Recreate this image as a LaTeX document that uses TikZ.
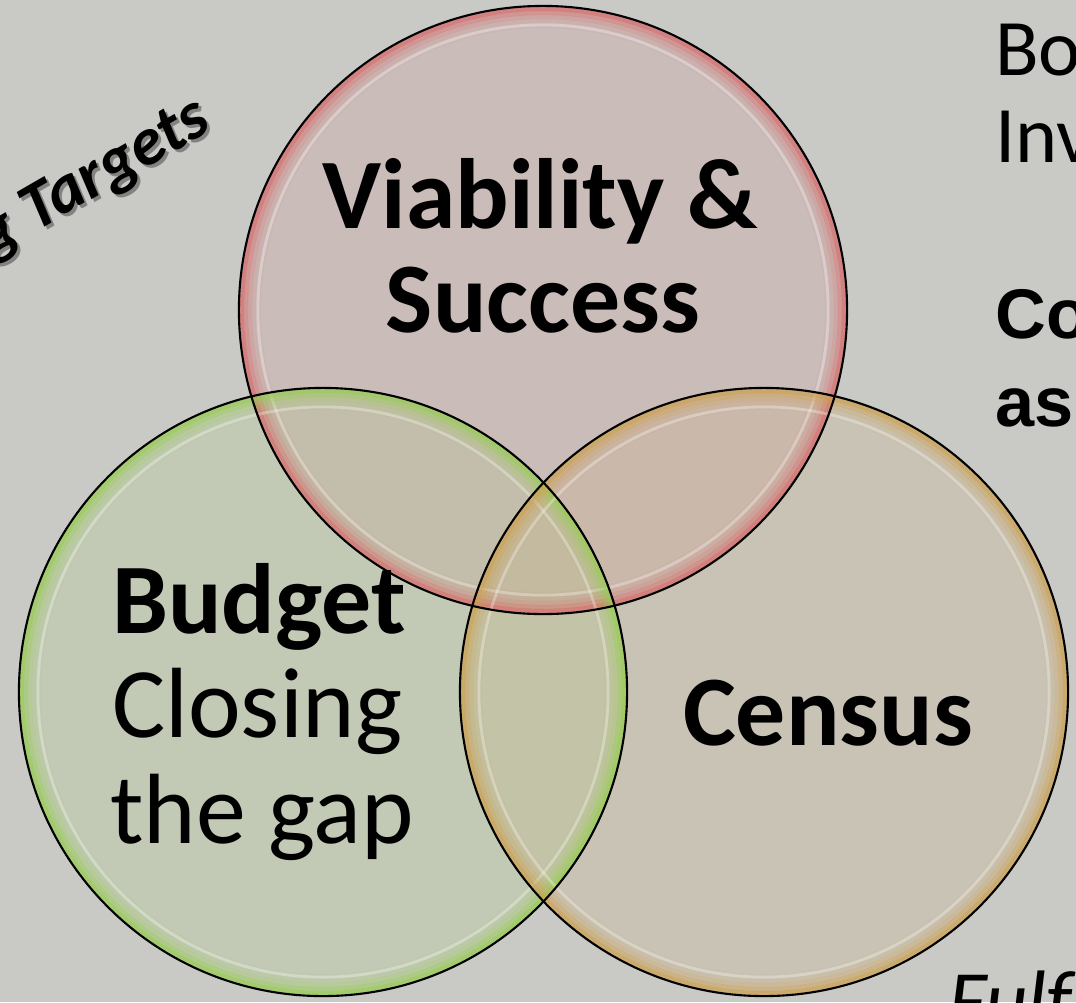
\documentclass[tikz,border=0pt]{standalone}
\usepackage{fontspec}
\setmainfont{Carlito}
\newfontfamily\arialf{Liberation Sans}
\begin{document}
\definecolor{bgc}{RGB}{201,201,197}
\definecolor{redc}{RGB}{215,105,105}
\definecolor{greenc}{RGB}{150,205,80}
\definecolor{orangec}{RGB}{205,160,80}
\tikzset{
  disc/.style={circle, minimum size=15.2cm, inner sep=0pt, fill=#1, fill opacity=0.13},
  rimring/.style={#1, line width=3pt},
  edge/.style={black, line width=1.5pt},
  bigb/.style={inner sep=0pt, font=\bfseries\fontsize{71}{85}\selectfont},
  bigr/.style={inner sep=0pt, font=\fontsize{71}{85}\selectfont},
  sidet/.style={inner sep=0pt, anchor=base west, font=\fontsize{57}{68}\selectfont},
  sideb/.style={inner sep=0pt, anchor=base west, font=\arialf\bfseries\fontsize{50}{60}\selectfont},
  tilted/.style={inner sep=0pt, anchor=base east, rotate=30, font=\bfseries\itshape\fontsize{48}{56}\selectfont},
}
\begin{tikzpicture}[x=0.025cm,y=-0.025cm]
\useasboundingbox (0,0) rectangle (1076,1002);
\clip (0,0) rectangle (1076,1002);
\fill[bgc] (0,0) rectangle (1076,1002);
% discs
\node[disc=redc] (red) at (543,310) {};
\node[disc=greenc] (green) at (323,692) {};
\node[disc=orangec] (orange) at (764,692) {};
% rims
\foreach \n/\c in {red/redc,green/greenc,orange/orangec}{
  \foreach \d/\o in {3/0.7,7/0.45,11/0.26,15/0.13,20/0.05}{
    \draw[rimring=\c, draw opacity=\o] (\n.center) circle[radius={7.6cm-\d*0.025cm}];
  }
  \draw[white, line width=2pt, draw opacity=0.3] (\n.center) circle[radius={7.6cm-19*0.025cm}];
}
% outlines
\foreach \n in {red,green,orange}{
  \draw[edge] (\n.center) circle[radius=7.6cm];
}
% texts in circles
\node[bigb, anchor=base] (v1) at (540,228) {Viability \&};
\node[bigb, anchor=base] (v2) at (543,332) {Success};
\node[bigb, anchor=base west] (b1) at (112,633) {Budget};
\node[bigr, anchor=base west] (b2) at (112,737) {Closing};
\node[bigr, anchor=base west] (b3) at (110,843) {the gap};
\node[bigb, anchor=base] (c1) at (828,745) {Census};
% side texts
\node[sidet] (s1) at (995,75) {Bo};
\node[sidet] (s2) at (995,162) {Inv};
\node[sideb] (s3) at (995,338) {Co};
\node[sideb] (s4) at (995,426) {as};
\node[inner sep=0pt, anchor=base west, font=\itshape\fontsize{59}{68}\selectfont] (f1) at (948,1028) {Fulf};
% rotated text with shadow
\node[tilted, text=black, opacity=0.35] (tg0) at (217,132) {g Targets};
\node[tilted] (tg) at (214,129) {g Targets};
\end{tikzpicture}
\end{document}
